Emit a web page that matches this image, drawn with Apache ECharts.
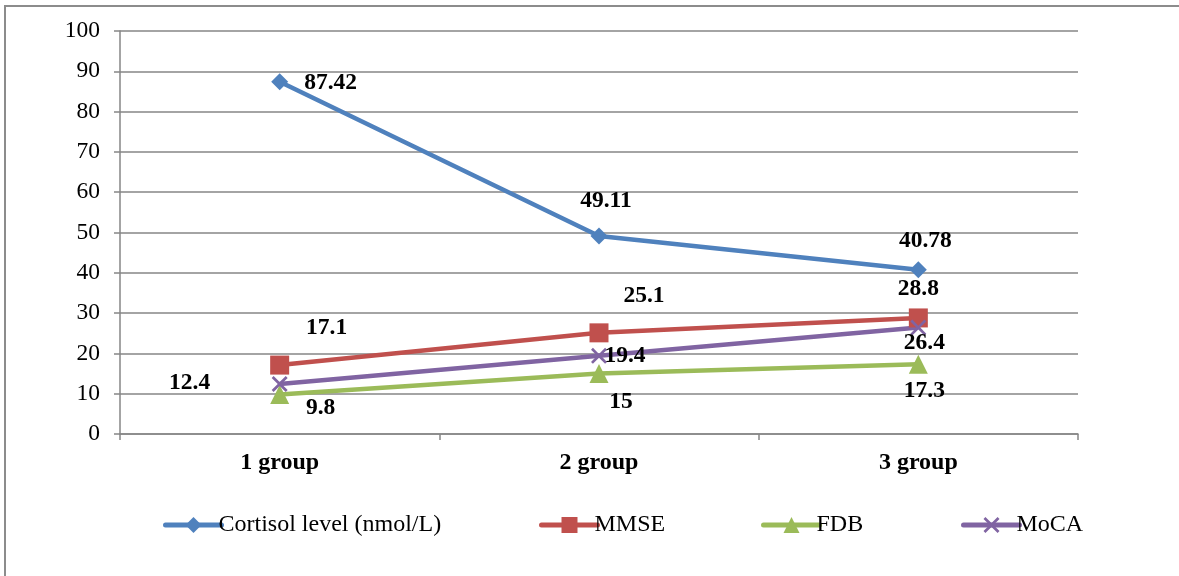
<!DOCTYPE html>
<html>
<head>
<meta charset="utf-8">
<script src="https://cdn.jsdelivr.net/npm/echarts@6/dist/echarts.min.js"></script>
<style>
  html, body { margin: 0; padding: 0; background: #fff; }
  #chart { width: 1179px; height: 576px; }
</style>
</head>
<body>
<div id="chart"></div>
<script>
// Groups and measured values
const categories = ['1 group', '2 group', '3 group'];
const cortisol = [87.42, 49.11, 40.78];
const mmse = [17.1, 25.1, 28.8];
const fdb = [9.8, 15, 17.3];
const moca = [12.4, 19.4, 26.4];
const yTicks = { min: 0, max: 100, interval: 10 };

const FONT = '"Liberation Serif", "Times New Roman", serif';
const CROSS = 'path://M0,1.2L1.2,0L5,3.8L8.8,0L10,1.2L6.2,5L10,8.8L8.8,10L5,6.2L1.2,10L0,8.8L3.8,5Z';

// per-point label offsets (px) so the value labels sit clear of the lines
const labelOffsets = {
  cortisol: [[51, 1], [7, -35], [7, -29]],
  mmse: [[47, -37], [45, -37], [0, -29]],
  fdb: [[41, 13], [22, 28], [6, 27]],
  moca: [[-90, -1], [26, 0], [6, 15]]
};

function points(values, key) {
  return values.map((v, i) => ({
    value: v,
    label: { offset: labelOffsets[key][i] }
  }));
}

function lineSeries(name, values, key, color, symbol, size) {
  return {
    name: name,
    type: 'line',
    data: points(values, key),
    symbol: symbol,
    symbolSize: size,
    showAllSymbol: true,
    lineStyle: { color: color, width: 4.5 },
    itemStyle: { color: color },
    label: {
      show: true,
      position: 'inside',
      color: '#000',
      fontFamily: FONT,
      fontWeight: 'bold',
      fontSize: 23.5
    },
    emphasis: { disabled: true },
    z: 3
  };
}

const legendBase = {
  orient: 'horizontal',
  top: 508,
  itemWidth: 56,
  itemHeight: 20,
  itemGap: 0,
  lineStyle: { width: 5, cap: 'round' },
  textStyle: { fontFamily: FONT, fontSize: 24, color: '#000', padding: [0, 0, 0, -8] },
  selectedMode: false
};

const chart = echarts.init(document.getElementById('chart'));
chart.setOption({
  animation: false,
  backgroundColor: '#fff',
  graphic: [{
    type: 'rect',
    shape: { x: 5, y: 6, width: 1300, height: 700 },
    style: { fill: 'none', stroke: '#8c8c8c', lineWidth: 2 },
    silent: true
  }],
  grid: { left: 120, right: 101, top: 31, bottom: 142 },
  legend: [
    Object.assign({}, legendBase, { left: 158, data: ['Cortisol level (nmol/L)'] }),
    Object.assign({}, legendBase, { left: 534, data: ['MMSE'] }),
    Object.assign({}, legendBase, { left: 756, data: ['FDB'] }),
    Object.assign({}, legendBase, { left: 956, data: ['MoCA'] })
  ],
  xAxis: {
    type: 'category',
    data: categories,
    boundaryGap: true,
    axisLine: { show: true, lineStyle: { color: '#868686', width: 1.5 } },
    axisTick: { show: true, length: 6, interval: 0, lineStyle: { color: '#868686', width: 1.5 } },
    axisLabel: {
      fontFamily: FONT, fontSize: 24, fontWeight: 'bold', color: '#000', margin: 17
    },
    splitLine: { show: false }
  },
  yAxis: {
    type: 'value',
    min: yTicks.min,
    max: yTicks.max,
    interval: yTicks.interval,
    axisLine: { show: true, lineStyle: { color: '#868686', width: 1.5 } },
    axisTick: { show: true, length: 6, lineStyle: { color: '#868686', width: 1.5 } },
    axisLabel: { fontFamily: FONT, fontSize: 23.5, color: '#000', margin: 20 },
    splitLine: { show: true, lineStyle: { color: '#868686', width: 1.5 } }
  },
  series: [
    lineSeries('Cortisol level (nmol/L)', cortisol, 'cortisol', '#4F81BD', 'diamond', 17),
    lineSeries('MMSE', mmse, 'mmse', '#C0504D', 'rect', 19),
    lineSeries('FDB', fdb, 'fdb', '#9BBB59', 'triangle', 19),
    lineSeries('MoCA', moca, 'moca', '#8064A2', CROSS, 16)
  ]
});
</script>
</body>
</html>
